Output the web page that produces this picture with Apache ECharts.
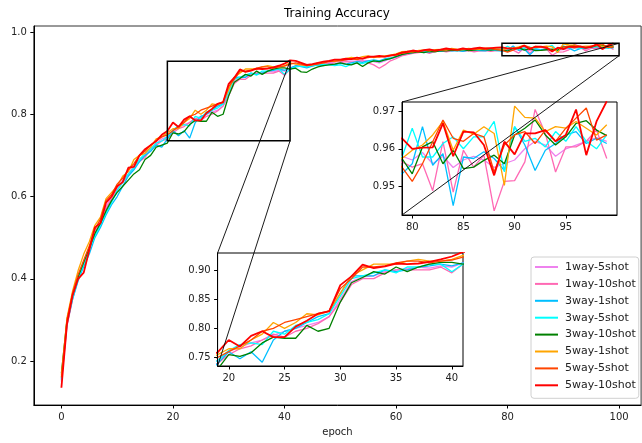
<!DOCTYPE html>
<html><head><meta charset="utf-8">
<script src="https://cdn.jsdelivr.net/npm/echarts@6/dist/echarts.min.js"></script>
<style>html,body{margin:0;padding:0;background:#fff}#c{width:642px;height:443px}</style>
</head><body><div id="c"></div>
<script>
const epochs = Array.from({length: 100}, (_, i) => i);
const seriesNames = ['1way-5shot','1way-10shot','3way-1shot','3way-5shot','3way-10shot','5way-1shot','5way-5shot','5way-10shot'];
const seriesColors = ['#EE82EE','#FF69B4','#00BFFF','#00FFFF','#008000','#FFA500','#FF4500','#FF0000'];
const xTicksMain = [0,20,40,60,80,100];
const yTicksMain = [0.2,0.4,0.6,0.8,1.0];
const xTicksTop = [80,85,90,95];
const yTicksTop = [0.95,0.96,0.97];
const xTicksBottom = [20,25,30,35,40];
const yTicksBottom = [0.75,0.80,0.85,0.90];

const way1shot5 = [0.155,0.29,0.355,0.40,0.44,0.475,0.515,0.54,0.575,0.60,0.62,0.64,0.655,0.675,0.69,0.70,0.715,0.73,0.74,
 0.745,0.76,0.768,0.775,0.78,0.788,0.795,0.80,0.805,0.81,0.82,0.85,0.88,0.888,0.89,0.897,0.90,0.902,0.905,0.903,0.907,0.905,0.912,
 0.918,0.92,0.918,0.92,0.922,0.924,0.925,0.927,0.928,0.93,0.929,0.93,0.932,0.93,0.928,0.925,0.93,0.935,0.938,0.943,
 0.946,0.949,0.951,0.952,0.95,0.953,0.955,0.953,0.955,0.956,0.954,0.956,0.954,0.955,0.956,0.955,0.956,
 0.958,0.957,0.959,0.956,0.958,0.955,0.957,0.958,0.957,0.955,0.956,0.957,0.96,0.962,0.961,0.958,0.96,0.961,0.962,0.963,0.962];
const way1shot10 = [0.15,0.285,0.35,0.40,0.435,0.47,0.51,0.535,0.57,0.595,0.615,0.635,0.65,0.67,0.685,0.695,0.715,0.725,0.735,
 0.74,0.755,0.765,0.77,0.78,0.79,0.785,0.795,0.80,0.808,0.82,0.845,0.875,0.885,0.885,0.895,0.90,0.90,0.90,0.90,0.905,0.895,0.91,
 0.915,0.918,0.915,0.918,0.92,0.922,0.924,0.922,0.925,0.928,0.926,0.928,0.93,0.925,0.92,0.912,0.92,0.93,0.935,0.942,
 0.945,0.948,0.95,0.952,0.948,0.953,0.955,0.952,0.954,0.956,0.953,0.955,0.952,0.954,0.955,0.953,0.955,
 0.9565,0.9551,0.956,0.9488,0.9619,0.9484,0.9596,0.9551,0.9583,0.9434,0.9513,0.9515,0.9565,0.9705,0.9641,0.9538,0.9605,0.9605,0.962,0.965,0.9574];
const way3shot1 = [0.155,0.29,0.35,0.395,0.43,0.46,0.50,0.525,0.555,0.58,0.60,0.625,0.65,0.665,0.685,0.70,0.71,0.725,0.72,
 0.74,0.76,0.748,0.76,0.742,0.78,0.795,0.80,0.81,0.82,0.825,0.86,0.89,0.89,0.89,0.90,0.897,0.90,0.905,0.907,0.91,0.907,0.912,
 0.918,0.916,0.913,0.917,0.92,0.918,0.922,0.92,0.924,0.922,0.925,0.928,0.926,0.93,0.932,0.93,0.935,0.937,0.94,0.945,
 0.948,0.95,0.951,0.953,0.951,0.954,0.953,0.956,0.954,0.955,0.953,0.956,0.957,0.955,0.954,0.957,0.955,
 0.9533,0.956,0.9659,0.9556,0.9587,0.9448,0.9578,0.9574,0.9592,0.9574,0.9542,0.9659,0.961,0.9542,0.9596,0.9614,0.9637,0.9646,0.9614,0.9628,0.9614];
const way3shot5 = [0.16,0.295,0.355,0.40,0.435,0.47,0.505,0.53,0.56,0.585,0.615,0.635,0.655,0.67,0.69,0.705,0.715,0.73,0.735,
 0.745,0.762,0.772,0.775,0.772,0.795,0.79,0.805,0.81,0.815,0.825,0.855,0.885,0.89,0.895,0.90,0.895,0.905,0.905,0.91,0.91,0.897,0.91,
 0.915,0.917,0.915,0.918,0.92,0.922,0.92,0.918,0.92,0.916,0.922,0.925,0.923,0.928,0.93,0.928,0.932,0.935,0.94,0.947,
 0.948,0.951,0.953,0.95,0.954,0.956,0.955,0.958,0.955,0.957,0.956,0.958,0.955,0.957,0.959,0.956,0.958,
 0.9578,0.9655,0.9578,0.9578,0.9614,0.9632,0.96,0.9632,0.9632,0.9673,0.9538,0.9659,0.962,0.9628,0.9605,0.9646,0.962,0.9659,0.962,0.96,0.9637];
const way3shot10 = [0.17,0.30,0.36,0.405,0.44,0.475,0.51,0.535,0.565,0.59,0.61,0.625,0.64,0.655,0.665,0.69,0.70,0.72,0.725,
 0.73,0.755,0.752,0.758,0.775,0.785,0.783,0.783,0.805,0.795,0.80,0.845,0.878,0.887,0.897,0.893,0.905,0.897,0.905,0.91,0.913,0.913,0.91,
 0.912,0.903,0.902,0.91,0.915,0.918,0.92,0.922,0.925,0.922,0.92,0.925,0.916,0.925,0.93,0.928,0.932,0.935,0.94,0.945,
 0.948,0.95,0.952,0.95,0.953,0.952,0.955,0.954,0.956,0.955,0.957,0.955,0.956,0.958,0.957,0.956,0.958,
 0.9574,0.9533,0.9605,0.9619,0.956,0.9596,0.9547,0.9551,0.9569,0.9583,0.956,0.9637,0.9655,0.9677,0.9637,0.961,0.9632,0.9668,0.9675,0.965,0.9635];
const way5shot1 = [0.165,0.305,0.37,0.42,0.46,0.49,0.53,0.55,0.595,0.61,0.625,0.65,0.66,0.69,0.70,0.705,0.72,0.74,0.745,
 0.755,0.765,0.765,0.78,0.79,0.81,0.80,0.81,0.825,0.823,0.83,0.86,0.89,0.90,0.91,0.91,0.91,0.915,0.918,0.915,0.915,0.918,0.925,
 0.922,0.92,0.918,0.92,0.925,0.925,0.93,0.928,0.932,0.935,0.938,0.936,0.94,0.942,0.938,0.94,0.942,0.944,0.947,0.952,
 0.953,0.952,0.955,0.956,0.954,0.957,0.958,0.956,0.96,0.958,0.957,0.96,0.959,0.958,0.961,0.96,0.959,
 0.9574,0.9596,0.961,0.9637,0.9673,0.9596,0.965,0.9639,0.9659,0.9641,0.9502,0.9714,0.9684,0.9682,0.9646,0.9659,0.9655,0.9673,0.9655,0.9637,0.9664];
const way5shot5 = [0.16,0.30,0.365,0.41,0.445,0.48,0.52,0.545,0.59,0.605,0.63,0.645,0.665,0.68,0.70,0.71,0.725,0.735,0.745,
 0.75,0.76,0.77,0.78,0.795,0.80,0.81,0.815,0.82,0.825,0.83,0.868,0.885,0.905,0.905,0.907,0.912,0.915,0.915,0.912,0.915,0.917,0.922,
 0.925,0.922,0.918,0.92,0.922,0.925,0.928,0.93,0.93,0.932,0.935,0.933,0.936,0.938,0.94,0.939,0.94,0.942,0.944,0.948,
 0.95,0.953,0.952,0.955,0.956,0.954,0.956,0.957,0.958,0.956,0.958,0.959,0.957,0.96,0.958,0.96,0.957,
 0.9551,0.9513,0.956,0.9619,0.9677,0.9628,0.962,0.9641,0.9632,0.9538,0.961,0.9637,0.9646,0.9614,0.965,0.962,0.9655,0.9682,0.9709,0.9623,0.9637];
const way5shot10 = [0.135,0.29,0.36,0.40,0.415,0.47,0.525,0.535,0.585,0.60,0.625,0.635,0.67,0.672,0.70,0.715,0.725,0.735,0.75,
 0.759,0.78,0.769,0.787,0.795,0.785,0.785,0.803,0.813,0.825,0.829,0.874,0.889,0.909,0.903,0.906,0.911,0.91,0.911,0.914,0.918,0.923,0.931,
 0.93,0.925,0.92,0.922,0.925,0.928,0.93,0.933,0.933,0.935,0.934,0.938,0.935,0.94,0.94,0.942,0.94,0.943,0.945,0.95,
 0.952,0.955,0.953,0.956,0.958,0.955,0.957,0.96,0.958,0.957,0.96,0.958,0.96,0.962,0.96,0.961,0.962,
 0.9628,0.960,0.9603,0.9604,0.9668,0.958,0.9646,0.9644,0.961,0.9529,0.9619,0.9585,0.9641,0.9641,0.965,0.962,0.9637,0.9705,0.9583,0.9673,0.9727];

const allValues = [way1shot5, way1shot10, way3shot1, way3shot5, way3shot10, way5shot1, way5shot5, way5shot10];

const mainRange = {x: [-4.95, 103.95], y: [0.0931, 1.0146]};
const topRange = {x: [79, 100], y: [0.9423, 0.9725]};
const bottomRange = {x: [19, 41], y: [0.7355, 0.929]};

const FONT = 'DejaVu Sans';
const chart = echarts.init(document.getElementById('c'), null, {renderer: 'canvas'});

function mkX(idx, range, ticks, z) {
  return {
    type: 'value', gridIndex: idx, min: range[0], max: range[1], z: z,
    axisLine: {show: true, onZero: false, lineStyle: {color: '#000', width: 1}},
    axisTick: {show: true, length: 3.5, lineStyle: {color: '#000'}, customValues: ticks},
    axisLabel: {show: true, margin: 7, fontFamily: FONT, fontSize: 10, color: '#222', customValues: ticks,
      formatter: v => String(Math.round(v))},
    splitLine: {show: false}
  };
}
function mkY(idx, range, ticks, digits, z) {
  return {
    type: 'value', gridIndex: idx, min: range[0], max: range[1], z: z,
    axisLine: {show: true, onZero: false, lineStyle: {color: '#000', width: 1}},
    axisTick: {show: true, length: 3.5, lineStyle: {color: '#000'}, customValues: ticks},
    axisLabel: {show: true, margin: 7, fontFamily: FONT, fontSize: 10, color: '#222', customValues: ticks,
      formatter: v => v.toFixed(digits)},
    splitLine: {show: false}
  };
}

const series = [];
[0, 1, 2].forEach(g => {
  allValues.forEach((vals, i) => {
    series.push({
      name: seriesNames[i], type: 'line', xAxisIndex: g, yAxisIndex: g,
      data: epochs.map((e, k) => [e, vals[k]]),
      symbol: 'none', showSymbol: false, clip: true, animation: false,
      z: g === 0 ? 2 : 11,
      color: seriesColors[i],
      itemStyle: {color: seriesColors[i]},
      lineStyle: {color: seriesColors[i], width: i === 7 ? 1.8 : 1.3},
      emphasis: {disabled: true}
    });
  });
});

const xAxisName = mkX(0, mainRange.x, xTicksMain, 3);
xAxisName.name = 'epoch';
xAxisName.nameLocation = 'middle';
xAxisName.nameGap = 22;
xAxisName.nameTextStyle = {fontFamily: FONT, fontSize: 10, color: '#222'};

chart.setOption({
  animation: false,
  backgroundColor: '#fff',
  title: {text: 'Training Accuracy', left: 337, top: 8, textAlign: 'center', padding: 0,
    textStyle: {fontFamily: FONT, fontSize: 12, fontWeight: 'normal', color: '#000'}},
  legend: {
    data: seriesNames.map((n, i) => ({name: n, icon: 'rect', itemStyle: {color: seriesColors[i]}})),
    orient: 'vertical', left: 531, top: 257,
    itemWidth: 23, itemHeight: 2, itemGap: 2.9,
    padding: [3, 3, 6, 4],
    backgroundColor: 'rgba(255,255,255,0.85)', borderColor: '#d0d0d0', borderWidth: 1, borderRadius: 3,
    textStyle: {fontFamily: FONT, fontSize: 11, color: '#222', lineHeight: 14, padding: [0, 0, 0, 2]},
    selectedMode: false, z: 20
  },
  grid: [
    {left: 33.8, top: 26, width: 607.3, height: 379, show: true, borderColor: '#333', borderWidth: 1, backgroundColor: 'transparent', z: 0},
    {left: 402, top: 102, width: 215, height: 113, show: true, borderColor: '#000', borderWidth: 1, backgroundColor: '#fff', z: 10},
    {left: 217.6, top: 253, width: 245.4, height: 113, show: true, borderColor: '#000', borderWidth: 1, backgroundColor: '#fff', z: 10}
  ],
  xAxis: [xAxisName, mkX(1, topRange.x, xTicksTop, 12), mkX(2, bottomRange.x, xTicksBottom, 12)],
  yAxis: [mkY(0, mainRange.y, yTicksMain, 1, 3), mkY(1, topRange.y, yTicksTop, 2, 12), mkY(2, bottomRange.y, yTicksBottom, 2, 12)],
  series: series
});

const graphics = [];
[[1, topRange], [2, bottomRange]].forEach(([g, r]) => {
  const a = chart.convertToPixel({gridIndex: 0}, [r.x[0], r.y[1]]);
  const b = chart.convertToPixel({gridIndex: 0}, [r.x[1], r.y[0]]);
  const tl = chart.convertToPixel({gridIndex: g}, [r.x[0], r.y[1]]);
  const bl = chart.convertToPixel({gridIndex: g}, [r.x[0], r.y[0]]);
  graphics.push({type: 'rect', z: 100, silent: true,
    shape: {x: a[0], y: a[1], width: b[0] - a[0], height: b[1] - a[1]},
    style: {fill: 'none', stroke: '#000', lineWidth: 1.5}});
  graphics.push({type: 'line', z: 100, silent: true,
    shape: {x1: tl[0], y1: tl[1], x2: b[0], y2: a[1]}, style: {stroke: '#000', lineWidth: 0.9}});
  graphics.push({type: 'line', z: 100, silent: true,
    shape: {x1: bl[0], y1: bl[1], x2: b[0], y2: b[1]}, style: {stroke: '#000', lineWidth: 0.9}});
});
chart.setOption({graphic: graphics});
</script>
</body></html>
